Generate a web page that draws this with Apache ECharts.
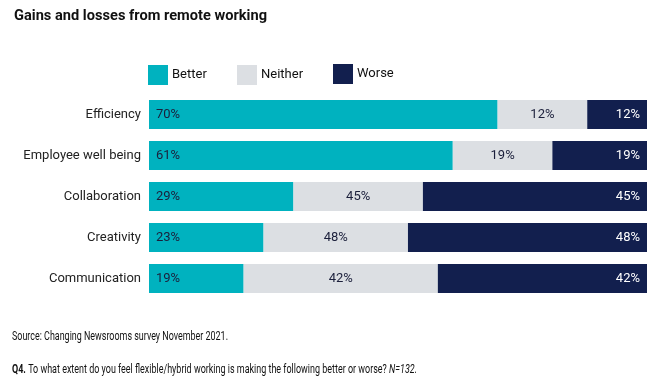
<!DOCTYPE html>
<html><head><meta charset="utf-8">
<script src="https://cdn.jsdelivr.net/npm/echarts@6/dist/echarts.min.js"></script>
<style>html,body{margin:0;padding:0;background:#fff}#c{width:660px;height:383px}</style>
</head><body><div id="c"></div>
<script>
const categories = ["Efficiency", "Employee well being", "Collaboration", "Creativity", "Communication"];
const betterValues = [70, 61, 29, 23, 19];
const neitherValues = [18, 20, 26, 29, 39];
const worseValues = [12, 19, 45, 48, 42];
const betterLabels = ["70%", "61%", "29%", "23%", "19%"];
const neitherLabels = ["12%", "19%", "45%", "48%", "42%"];
const worseLabels = ["12%", "19%", "45%", "48%", "42%"];
const seriesNames = ["Better", "Neither", "Worse"];

const titleText = "Gains and losses from remote working";
const sourceText = "Source: Changing Newsrooms survey November 2021.";
const qBold = "Q4.";
const qText = " To what extent do you feel flexible/hybrid working is making the following better or worse? ";
const qItalic = "N=132.";

const FONT = 'Roboto, "Noto Sans", sans-serif';
const cv = document.createElement('canvas').getContext('2d');
function w(str, font) { cv.font = font; return cv.measureText(str).width; }

const titleW = w(titleText, 'bold 15px ' + FONT);
const srcW = w(sourceText, '13px ' + FONT);
const qW = w(qBold, 'bold 13px ' + FONT) + w(qText, '13px ' + FONT) + w(qItalic, 'italic 13px ' + FONT);

const chart = echarts.init(document.getElementById('c'), null, {renderer: 'canvas'});
const lbl = (arr, pos, color) => ({
  show: true, position: pos, color: color, fontSize: 13, fontFamily: FONT,
  distance: 7,
  formatter: p => arr[p.dataIndex]
});
const legendLefts = [148, 237, 333];
chart.setOption({
  animation: false,
  graphic: [
    {type: 'text', left: 14, top: 9, scaleX: 253 / titleW, originX: 0,
     style: {text: titleText, font: 'bold 15px ' + FONT, fill: '#111'}},
    {type: 'text', x: 12, y: 336.5, scaleX: 216 / srcW, originX: 0,
     style: {text: sourceText, font: '13px ' + FONT, fill: '#111', verticalAlign: 'middle'}},
    {type: 'text', x: 12, y: 369.5, scaleX: 405 / qW, originX: 0,
     style: {text: '{b|' + qBold + '}{n|' + qText + '}{i|' + qItalic + '}', verticalAlign: 'middle', fill: '#111',
       rich: {b: {font: 'bold 13px ' + FONT, fill: '#111'},
              n: {font: '13px ' + FONT, fill: '#111'},
              i: {font: 'italic 13px ' + FONT, fill: '#111'}}}}
  ],
  legend: seriesNames.map((n, i) => ({
    data: [n], left: legendLefts[i], top: i === 2 ? 64 : 65, padding: 0, itemWidth: 20, itemHeight: 20,
    icon: 'rect', textStyle: {fontSize: 13, color: '#111', fontFamily: FONT, padding: [0,0,0,-1]}
  })),
  grid: {left: 149, right: 13, top: 94, height: 205},
  xAxis: {type: 'value', min: 0, max: 100, show: false},
  yAxis: {type: 'category', data: categories, inverse: true,
    axisLine: {show: false}, axisTick: {show: false},
    axisLabel: {fontSize: 13, color: '#222', fontFamily: FONT, margin: 8}},
  series: [
    {name: "Better", type: 'bar', stack: 's', barWidth: 29, data: betterValues,
     itemStyle: {color: '#00B2BF'}, label: lbl(betterLabels, 'insideLeft', '#1b1f3b')},
    {name: "Neither", type: 'bar', stack: 's', barWidth: 29, data: neitherValues,
     itemStyle: {color: '#DCDFE3'}, label: lbl(neitherLabels, 'inside', '#1b1f3b')},
    {name: "Worse", type: 'bar', stack: 's', barWidth: 29, data: worseValues,
     itemStyle: {color: '#121F4E'}, label: lbl(worseLabels, 'insideRight', '#ffffff')}
  ]
});
</script></body></html>
